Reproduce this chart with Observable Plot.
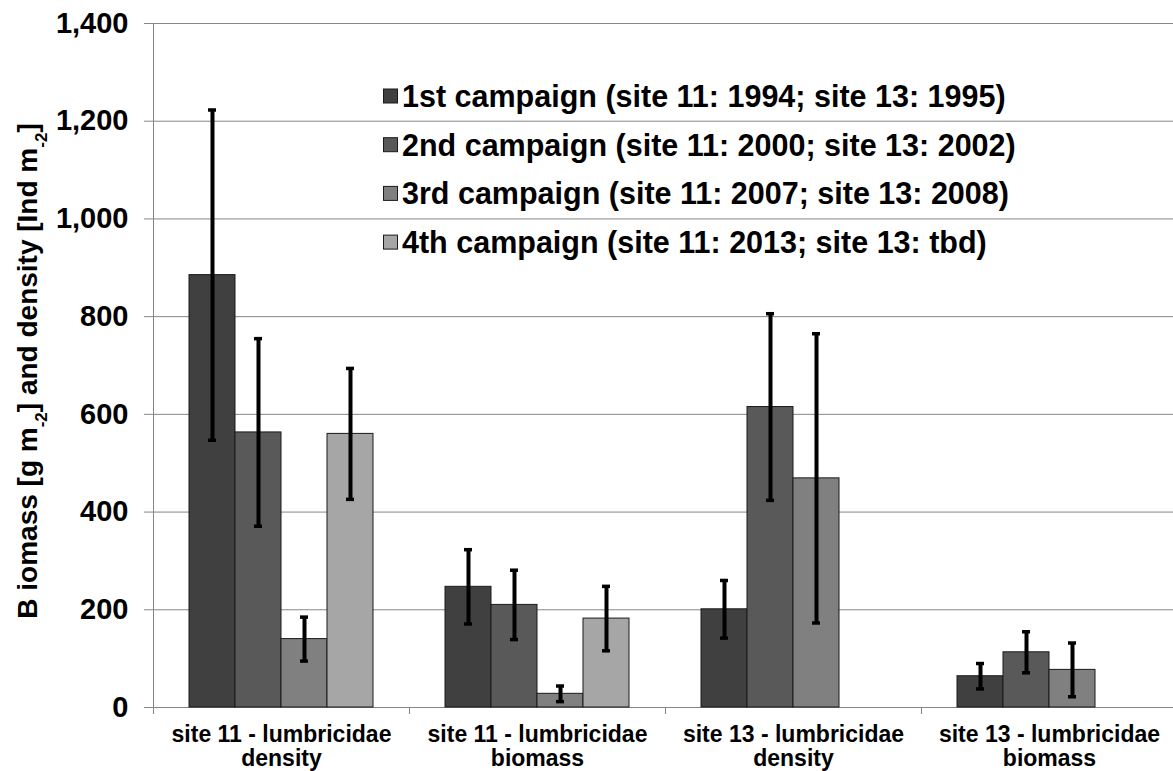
<!DOCTYPE html>
<html>
<head>
<meta charset="utf-8">
<script src="https://cdn.jsdelivr.net/npm/d3@7"></script>
<script src="https://cdn.jsdelivr.net/npm/@observablehq/plot@0.6"></script>
<style>
  html, body { margin: 0; padding: 0; background: #fff; }
  #wrap { position: relative; width: 1173px; height: 771px; overflow: hidden; }
</style>
</head>
<body>
<div id="wrap"></div>
<script>
// ---- data ----
const groups = [
  "site 11 - lumbricidae\ndensity",
  "site 11 - lumbricidae\nbiomass",
  "site 13 - lumbricidae\ndensity",
  "site 13 - lumbricidae\nbiomass"
];
const campaigns = [
  "1st campaign (site 11: 1994; site 13: 1995)",
  "2nd campaign (site 11: 2000; site 13: 2002)",
  "3rd campaign (site 11: 2007; site 13: 2008)",
  "4th campaign (site 11: 2013; site 13: tbd)"
];
const mean1st = [885, 247, 201, 64];
const mean2nd = [563, 210, 615, 113];
const mean3rd = [140, 28, 469, 77];
const mean4th = [560, 182, null, null];
const err1st = [338, 76, 59, 26];
const err2nd = [192, 71, 191, 42];
const err3rd = [45, 16, 296, 55];
const err4th = [134, 66, null, null];
const yTicks = [0, 200, 400, 600, 800, 1000, 1200, 1400];
const colors = ["#404040", "#595959", "#808080", "#a6a6a6"];

const means = [mean1st, mean2nd, mean3rd, mean4th];
const errs = [err1st, err2nd, err3rd, err4th];
const rows = [];
campaigns.forEach((c, ci) => groups.forEach((g, gi) => {
  const v = means[ci][gi];
  if (v != null) rows.push({campaign: c, group: g, value: v, lo: v - errs[ci][gi], hi: v + errs[ci][gi]});
}));

const FONT = "'Liberation Sans', Arial, sans-serif";
const GRID = "#868686";

const chart = Plot.plot({
  width: 1173,
  height: 771,
  marginLeft: 152,
  marginRight: -4,
  marginTop: 23,
  marginBottom: 64,
  style: {fontFamily: FONT, background: "white", overflow: "visible"},
  fx: {domain: groups, padding: 0, label: null},
  x: {domain: campaigns, paddingInner: 0, paddingOuter: 0.745, axis: null},
  y: {domain: [0, 1400], label: null},
  color: {domain: campaigns, range: colors},
  marks: [
    Plot.gridY({ticks: yTicks, stroke: GRID, strokeOpacity: 1, strokeWidth: 1}),
    Plot.ruleY([0], {stroke: GRID, strokeWidth: 1}),
    Plot.barY(rows, {fx: "group", x: "campaign", y: "value", fill: "campaign", stroke: "#1a1a1a", strokeWidth: 1}),
    Plot.ruleX(rows, {fx: "group", x: "campaign", y1: "lo", y2: "hi", stroke: "black", strokeWidth: 4}),
    Plot.tickY(rows, {fx: "group", x: "campaign", y: "lo", stroke: "black", strokeWidth: 3.5, insetLeft: 19, insetRight: 19}),
    Plot.tickY(rows, {fx: "group", x: "campaign", y: "hi", stroke: "black", strokeWidth: 3.5, insetLeft: 19, insetRight: 19}),
    Plot.axisY({ticks: yTicks, tickFormat: d3.format(","), tickSize: 9, tickPadding: 16, fontSize: 29, fontWeight: "bold", stroke: GRID, fill: "black", label: null}),
    Plot.axisFx({anchor: "bottom", tickSize: 0, tickPadding: 17, fontSize: 23, fontWeight: "bold", lineHeight: 1.05, fill: "black", label: null})
  ]
});

document.getElementById("wrap").appendChild(chart);

// ---- decorations derived from the plot's scales ----
const svg = d3.select(chart);
const fx = chart.scale("fx");
const y = chart.scale("y");
const y0 = y.apply(0);
const yTop = y.apply(1400);
const xLeft = fx.apply(groups[0]);

const deco = svg.append("g").attr("stroke", GRID).attr("stroke-width", 1);
deco.append("line").attr("x1", xLeft + 0.5).attr("x2", xLeft + 0.5).attr("y1", yTop).attr("y2", y0 + 7);
groups.forEach(g => {
  const gx = fx.apply(g);
  deco.append("line").attr("x1", gx + 0.5).attr("x2", gx + 0.5).attr("y1", y0).attr("y2", y0 + 7);
});

// y-axis title with subscripts
const title = svg.append("text")
  .attr("transform", `translate(37, ${(y0 + yTop) / 2 + 6}) rotate(-90)`)
  .attr("text-anchor", "middle")
  .attr("font-family", FONT)
  .attr("font-weight", "bold")
  .attr("font-size", 28)
  .attr("fill", "black");
const parts = [
  ["B iomass [g m", false], ["-2", true], ["] and density [Ind m", false], ["-2", true], ["]", false]
];
parts.forEach(([t, sub]) => {
  const ts = title.append("tspan").text(t);
  if (sub) ts.attr("font-size", 17).attr("baseline-shift", "sub");
});

// legend
const color = chart.scale("color");
const leg = svg.append("g").attr("font-family", FONT).attr("font-weight", "bold").attr("font-size", 30.5).attr("text-anchor", "start");
campaigns.forEach((c, i) => {
  const cy = 96 + i * 48.7;
  leg.append("rect").attr("x", 383.5).attr("y", cy - 7).attr("width", 14).attr("height", 14)
    .attr("fill", color.apply(c)).attr("stroke", "#1a1a1a").attr("stroke-width", 1);
  leg.append("text").attr("x", 402).attr("y", cy).attr("dy", "0.36em").attr("fill", "black").text(c);
});
</script>
</body>
</html>
